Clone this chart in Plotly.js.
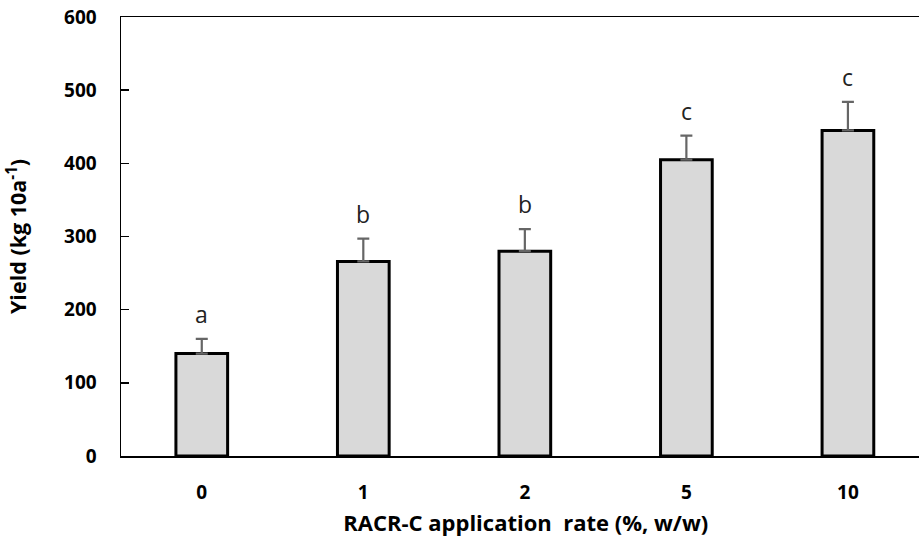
<!DOCTYPE html>
<html>
<head>
<meta charset="utf-8">
<script src="https://cdn.plot.ly/plotly-3.0.1.min.js"></script>
<style>html,body{margin:0;padding:0;background:#fff;}#chart{width:919px;height:543px;}</style>
</head>
<body>
<div id="chart"></div>
<script>
const categories = ["0", "1", "2", "5", "10"];
const yieldValues = [140, 266, 280, 405, 445];
const yieldErrors = [20, 31, 30, 33, 39];
const letters = ["a", "b", "b", "c", "c"];
const yTicks = [0, 100, 200, 300, 400, 500, 600];

const FONT = "Open Sans, Noto Sans, sans-serif";

const trace = {
  type: "bar",
  x: categories,
  y: yieldValues,
  width: 0.32,
  marker: {color: "#d9d9d9", line: {color: "#000000", width: 3}},
  error_y: {type: "data", array: yieldErrors, symmetric: false, arrayminus: yieldErrors.map(() => 0),
            color: "#666666", thickness: 2.2, width: 6},
  hoverinfo: "none"
};

const annotations = categories.map((c, i) => ({
  x: i, y: yieldValues[i] + yieldErrors[i], xref: "x", yref: "y",
  text: letters[i], showarrow: false, yanchor: "bottom", yshift: 7,
  font: {family: FONT, size: 23, color: "#222"}
}));

const layout = {
  width: 919, height: 543,
  margin: {l: 121, r: 0, t: 17, b: 87},
  paper_bgcolor: "#fff", plot_bgcolor: "#fff",
  showlegend: false,
  xaxis: {
    type: "category", range: [-0.5, 4.44],
    showline: true, linecolor: "#000", linewidth: 1.5, mirror: true,
    ticks: "", showgrid: false, zeroline: false,
    tickfont: {family: FONT, size: 19, color: "#000", weight: "bold"},
    ticklabelstandoff: 19,
    title: {text: "<b>&nbsp;&nbsp;RACR-C application&nbsp; rate (%, w/w)</b>", font: {family: FONT, size: 22, color: "#000"}, standoff: 11}
  },
  yaxis: {
    range: [0, 600], tickvals: yTicks, ticktext: yTicks.map(String),
    showline: true, linecolor: "#000", linewidth: 1.5,
    ticks: "inside", ticklen: 8, tickcolor: "#000", tickwidth: 1.5,
    showgrid: false, zeroline: false,
    tickfont: {family: FONT, size: 19, color: "#000", weight: "bold"},
    ticklabelstandoff: 19,
    title: {text: "<b>Yield (kg 10a<sup>-1</sup>)</b>", font: {family: FONT, size: 21.5, color: "#000"}, standoff: 31}
  },
  annotations: annotations
};

Plotly.newPlot("chart", [trace], layout, {displayModeBar: false, staticPlot: true});
</script>
</body>
</html>
